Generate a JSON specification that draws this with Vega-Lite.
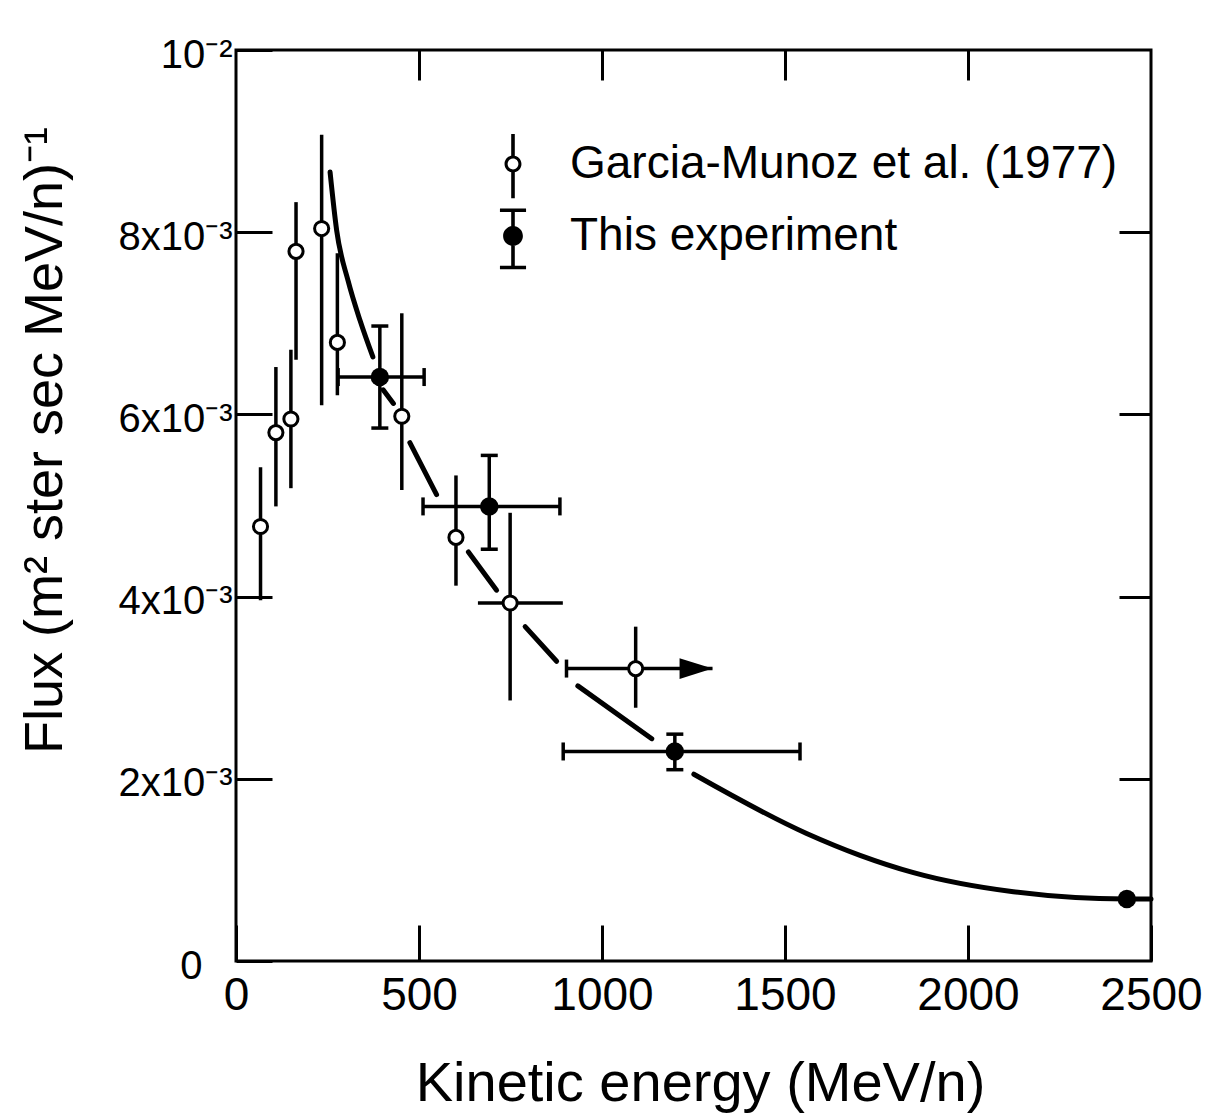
{
  "$schema": "https://vega.github.io/schema/vega-lite/v6.json",
  "width": 915,
  "height": 911,
  "autosize": {"type": "none"},
  "padding": {"left": 236, "top": 50, "right": 58, "bottom": 156},
  "background": "white",
  "config": {
    "view": {"stroke": "black", "strokeWidth": 3},
    "font": "Liberation Sans",
    "axis": {
      "grid": false,
      "domain": false,
      "tickColor": "black",
      "tickWidth": 3,
      "labelColor": "black",
      "titleColor": "black",
      "titleFontWeight": "normal"
    }
  },
  "datasets": {
    "points": [
      {"series": "Garcia-Munoz et al. (1977)", "E": 67, "F": 0.00477, "Flo": 0.00396, "Fhi": 0.00542},
      {"series": "Garcia-Munoz et al. (1977)", "E": 109, "F": 0.00580, "Flo": 0.00499, "Fhi": 0.00652},
      {"series": "Garcia-Munoz et al. (1977)", "E": 150, "F": 0.00595, "Flo": 0.00519, "Fhi": 0.00671},
      {"series": "Garcia-Munoz et al. (1977)", "E": 164, "F": 0.00779, "Flo": 0.00660, "Fhi": 0.00833},
      {"series": "Garcia-Munoz et al. (1977)", "E": 234, "F": 0.00804, "Flo": 0.00610, "Fhi": 0.00907},
      {"series": "Garcia-Munoz et al. (1977)", "E": 277, "F": 0.00679, "Flo": 0.00621, "Fhi": 0.00777},
      {"series": "Garcia-Munoz et al. (1977)", "E": 453, "F": 0.00598, "Flo": 0.00517, "Fhi": 0.00711},
      {"series": "Garcia-Munoz et al. (1977)", "E": 601, "F": 0.00465, "Flo": 0.00412, "Fhi": 0.00533},
      {"series": "Garcia-Munoz et al. (1977)", "E": 749, "F": 0.00393, "Flo": 0.00286, "Fhi": 0.00492, "Elo": 661, "Ehi": 893},
      {"series": "Garcia-Munoz et al. (1977)", "E": 1092, "F": 0.00321, "Flo": 0.00278, "Fhi": 0.00367, "Elo": 903, "Ehi": 1302, "lowerLimit": true},
      {"series": "This experiment", "E": 393, "F": 0.00641, "Flo": 0.00585, "Fhi": 0.00697, "Elo": 279, "Ehi": 514},
      {"series": "This experiment", "E": 692, "F": 0.00499, "Flo": 0.00452, "Fhi": 0.00555, "Elo": 511, "Ehi": 885},
      {"series": "This experiment", "E": 1199, "F": 0.00230, "Flo": 0.00210, "Fhi": 0.00249, "Elo": 894, "Ehi": 1541},
      {"series": "This experiment", "E": 2434, "F": 0.00068}
    ],
    "fit": [
      {"piece": 1, "E": 257, "F": 0.00866},
      {"piece": 1, "E": 275, "F": 0.00802},
      {"piece": 1, "E": 306, "F": 0.00747},
      {"piece": 1, "E": 339, "F": 0.00703},
      {"piece": 1, "E": 374, "F": 0.00663},
      {"piece": 2, "E": 402, "F": 0.00627},
      {"piece": 2, "E": 430, "F": 0.00612},
      {"piece": 3, "E": 475, "F": 0.00569},
      {"piece": 3, "E": 548, "F": 0.00512},
      {"piece": 4, "E": 635, "F": 0.00449},
      {"piece": 4, "E": 712, "F": 0.00407},
      {"piece": 5, "E": 790, "F": 0.00367},
      {"piece": 5, "E": 876, "F": 0.00329},
      {"piece": 6, "E": 934, "F": 0.00302},
      {"piece": 6, "E": 1136, "F": 0.00244},
      {"piece": 7, "E": 1251, "F": 0.00205},
      {"piece": 7, "E": 1559, "F": 0.00140},
      {"piece": 7, "E": 1705, "F": 0.00116},
      {"piece": 7, "E": 1851, "F": 0.00097},
      {"piece": 7, "E": 2124, "F": 0.00076},
      {"piece": 7, "E": 2434, "F": 0.00068},
      {"piece": 7, "E": 2500, "F": 0.00068}
    ]
  },
  "layer": [
    {
      "description": "Vertical error bars; also carries the left and bottom axes",
      "data": {"name": "points"},
      "transform": [{"filter": "isValid(datum.Fhi)"}],
      "mark": {"type": "rule", "strokeWidth": 3.5, "color": "black"},
      "encoding": {
        "x": {
          "field": "E",
          "type": "quantitative",
          "scale": {"domain": [0, 2500], "nice": false, "zero": false},
          "axis": {
            "orient": "bottom",
            "values": [0, 500, 1000, 1500, 2000, 2500],
            "format": "d",
            "tickSize": -36,
            "labelFont": "Liberation Sans",
            "labelFontSize": 46,
            "labelPadding": 48,
            "labelFlush": false,
            "labelOverlap": false,
            "title": "Kinetic energy (MeV/n)",
            "titleFont": "Liberation Sans",
            "titleFontSize": 56,
            "titleX": 464,
            "titleY": 139,
            "titleAlign": "center",
            "titleBaseline": "alphabetic"
          }
        },
        "y": {
          "field": "Flo",
          "type": "quantitative",
          "scale": {"domain": [0, 0.01], "nice": false, "zero": false},
          "axis": {
            "orient": "left",
            "values": [0, 0.002, 0.004, 0.006, 0.008, 0.01],
            "tickSize": -36,
            "labelExpr": "datum.value == 0 ? '0' : datum.value > 0.0095 ? '10⁻²' : round(datum.value * 1000) + 'x10⁻³'",
            "labelFont": "Liberation Sans",
            "labelFontSize": 40,
            "labelPadding": {"condition": {"test": "datum.value == 0", "value": 70}, "value": 40},
            "labelOffset": 5,
            "labelOverlap": false,
            "labelFlush": false,
            "title": "Flux (m² ster sec MeV/n)⁻¹",
            "titleFont": "Liberation Sans",
            "titleFontSize": 54,
            "titleAngle": -90,
            "titleX": -191,
            "titleY": 390,
            "titleAlign": "center",
            "titleBaseline": "middle"
          }
        },
        "y2": {"field": "Fhi"}
      }
    },
    {
      "description": "Horizontal error bars (energy bins)",
      "data": {"name": "points"},
      "transform": [{"filter": "isValid(datum.Elo)"}],
      "mark": {"type": "rule", "strokeWidth": 3.5, "color": "black"},
      "encoding": {
        "x": {"field": "Elo", "type": "quantitative", "axis": null},
        "x2": {"field": "Ehi"},
        "y": {"field": "F", "type": "quantitative", "axis": null}
      }
    },
    {
      "description": "Fitted spectrum, broken where it passes behind the data points; carries the top and right tick axes",
      "data": {"name": "fit"},
      "mark": {"type": "line", "strokeWidth": 5, "strokeCap": "round", "color": "black", "interpolate": "monotone"},
      "encoding": {
        "x": {
          "field": "E",
          "type": "quantitative",
          "axis": {"orient": "top", "values": [500, 1000, 1500, 2000], "tickSize": -30, "labels": false, "title": null}
        },
        "y": {
          "field": "F",
          "type": "quantitative",
          "axis": {"orient": "right", "values": [0.002, 0.004, 0.006, 0.008], "tickSize": -32, "labels": false, "title": null}
        },
        "detail": {"field": "piece", "type": "nominal"}
      }
    },
    {
      "description": "Caps on the flux error bars of this experiment",
      "data": {"name": "points"},
      "transform": [
        {"filter": "datum.series == 'This experiment' && isValid(datum.Fhi)"},
        {"fold": ["Flo", "Fhi"], "as": ["end", "Fend"]}
      ],
      "mark": {"type": "tick", "orient": "horizontal", "size": 17, "thickness": 3.5, "color": "black", "opacity": 1},
      "encoding": {
        "x": {"field": "E", "type": "quantitative", "axis": null},
        "y": {"field": "Fend", "type": "quantitative", "axis": null}
      }
    },
    {
      "description": "Caps on the energy bins",
      "data": {"name": "points"},
      "transform": [
        {"fold": ["Elo", "Ehi"], "as": ["end", "Eend"]},
        {"filter": "isValid(datum.Eend) && (datum.series == 'This experiment' || (datum.lowerLimit && datum.end == 'Elo'))"}
      ],
      "mark": {"type": "tick", "orient": "vertical", "size": 18, "thickness": 3.5, "color": "black", "opacity": 1},
      "encoding": {
        "x": {"field": "Eend", "type": "quantitative", "axis": null},
        "y": {"field": "F", "type": "quantitative", "axis": null}
      }
    },
    {
      "description": "Arrowhead for the open-ended energy bin",
      "data": {"name": "points"},
      "transform": [{"filter": "datum.lowerLimit"}],
      "mark": {"type": "point", "shape": "M-2,-0.63L0,0L-2,0.63Z", "size": 1089, "filled": true, "color": "black", "opacity": 1},
      "encoding": {
        "x": {"field": "Ehi", "type": "quantitative", "axis": null},
        "y": {"field": "F", "type": "quantitative", "axis": null}
      }
    },
    {
      "description": "Garcia-Munoz et al. points (open circles)",
      "data": {"name": "points"},
      "transform": [{"filter": "datum.series != 'This experiment'"}],
      "mark": {"type": "point", "shape": "circle", "size": 200, "filled": true, "fill": "white", "stroke": "black", "strokeWidth": 3, "opacity": 1},
      "encoding": {
        "x": {"field": "E", "type": "quantitative", "axis": null},
        "y": {"field": "F", "type": "quantitative", "axis": null}
      }
    },
    {
      "description": "This experiment (filled circles)",
      "data": {"name": "points"},
      "transform": [{"filter": "datum.series == 'This experiment'"}],
      "mark": {"type": "point", "shape": "circle", "size": 340, "filled": true, "color": "black", "opacity": 1},
      "encoding": {
        "x": {"field": "E", "type": "quantitative", "axis": null},
        "y": {"field": "F", "type": "quantitative", "axis": null}
      }
    },
    {
      "description": "Key: no rows are drawn here, the fixed shape scale supplies both entries",
      "data": {"name": "points"},
      "transform": [{"filter": "datum.E < 0"}],
      "mark": {"type": "point", "filled": true, "color": "black"},
      "encoding": {
        "x": {"field": "E", "type": "quantitative", "axis": null},
        "y": {"field": "F", "type": "quantitative", "axis": null},
        "shape": {
          "field": "series",
          "type": "nominal",
          "scale": {
            "domain": ["Garcia-Munoz et al. (1977)", "This experiment"],
            "range": [
              "M-0.2,-3.33H0.2V-0.9H-0.2ZM-0.2,0.9H0.2V3.8H-0.2ZM0.94,0A0.94,0.94 0 1,1 -0.94,0A0.94,0.94 0 1,1 0.94,0ZM0.6,0A0.6,0.6 0 1,0 -0.6,0A0.6,0.6 0 1,0 0.6,0Z",
              "M-0.2,-2.86H0.2V3.5H-0.2ZM-1.45,-3.05H1.45V-2.67H-1.45ZM-1.45,3.31H1.45V3.69H-1.45ZM1.1,0A1.1,1.1 0 1,1 -1.1,0A1.1,1.1 0 1,1 1.1,0Z"
            ]
          },
          "legend": {
            "title": null,
            "orient": "none",
            "legendX": 254,
            "legendY": 91,
            "padding": 0,
            "rowPadding": 9,
            "labelFont": "Liberation Sans",
            "labelFontSize": 46,
            "labelColor": "black",
            "labelOffset": 34,
            "labelLimit": 0,
            "symbolSize": 324,
            "symbolFillColor": "black",
            "symbolStrokeWidth": 0,
            "symbolOpacity": 1
          }
        }
      }
    }
  ],
  "resolve": {"axis": {"x": "independent", "y": "independent"}}
}
